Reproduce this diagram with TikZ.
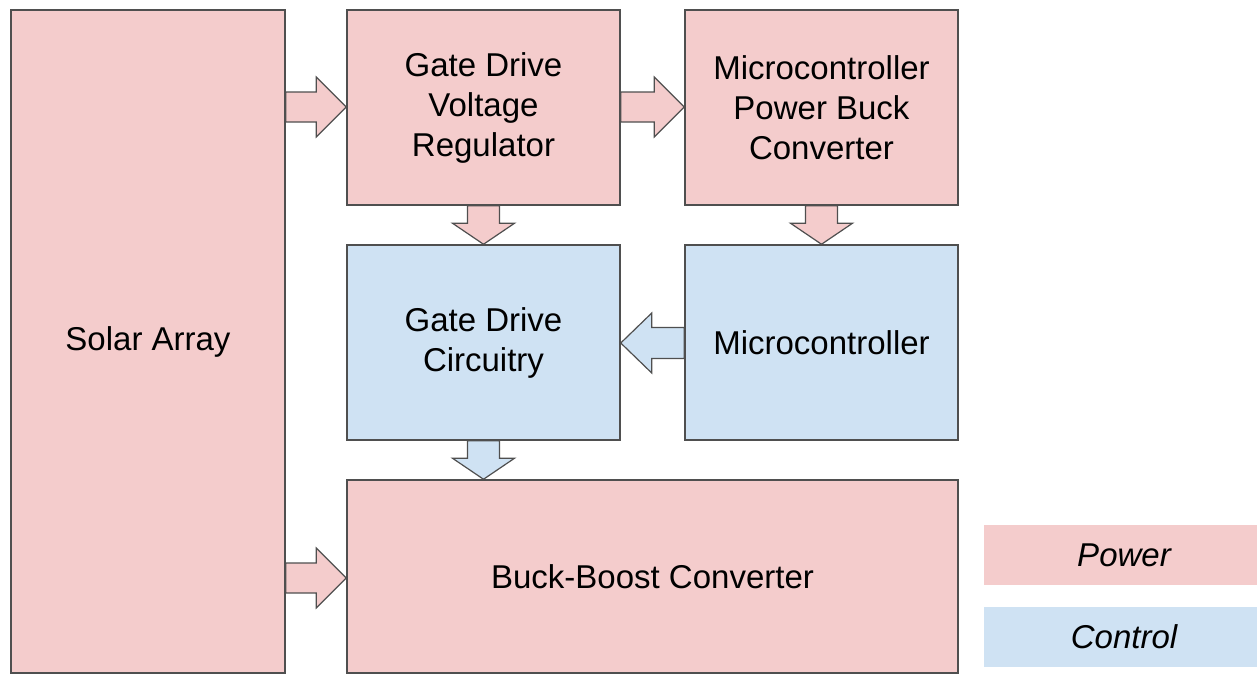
\documentclass[tikz,border=0pt]{standalone}
\usepackage{fontspec}
\setmainfont{Liberation Sans}
\usetikzlibrary{calc}
\definecolor{powerfill}{HTML}{F4CCCC}
\definecolor{controlfill}{HTML}{CFE2F3}
\definecolor{edge}{HTML}{4F4F4F}
\tikzset{
  block/.style={draw=edge, line width=1.5pt, inner sep=0pt, align=center,
    font=\fontsize{33}{40}\selectfont},
  power/.style={block, fill=powerfill},
  control/.style={block, fill=controlfill},
  legendbox/.style={inner sep=0pt, minimum width=280pt, minimum height=60pt,
    font=\fontsize{33}{40}\selectfont\itshape},
  flow/.style={draw=edge, line width=1.2pt, line join=miter},
}
% Outlined block arrow from #1 to #2: head length #3, body half-width #4, head half-width #5
\newcommand\blockarrow[6]{%
  \coordinate (ba-s) at (#1);
  \coordinate (ba-t) at (#2);
  \coordinate (ba-h) at ($(ba-t)!#3!(ba-s)$);
  \filldraw[flow, fill=#6]
    ($(ba-s)!#4!90:(ba-t)$) -- ($(ba-h)!#4!90:(ba-t)$) -- ($(ba-h)!#5!90:(ba-t)$)
    -- (ba-t) -- ($(ba-h)!#5!-90:(ba-t)$) -- ($(ba-h)!#4!-90:(ba-t)$)
    -- ($(ba-s)!#4!-90:(ba-t)$) -- cycle;
}
\begin{document}
\begin{tikzpicture}[x=1pt, y=-1pt]
\useasboundingbox (0,0) rectangle (1257,675);

% blocks
\node[power, minimum width=274pt, minimum height=663pt] (solar) at (148,341.5) {Solar Array};
\node[power, minimum width=273pt, minimum height=195pt] (gdvr) at (483.5,107.5) {Gate Drive\\Voltage\\Regulator};
\node[power, minimum width=273pt, minimum height=195pt] (mpbc) at (821.5,107.5) {Microcontroller\\Power Buck\\Converter};
\node[control, minimum width=273pt, minimum height=195pt] (gdc) at (483.5,342.5) {Gate Drive\\Circuitry};
\node[control, minimum width=273pt, minimum height=195pt] (mcu) at (821.5,342.5) {Microcontroller};
\node[power, minimum width=611pt, minimum height=193pt] (bbc) at (652.5,576.5) {Buck-Boost Converter};

% legend
\node[legendbox, fill=powerfill] (lpower) at (1124,555) {Power};
\node[legendbox, fill=controlfill] (lcontrol) at (1124,637) {Control};

% power and control flow
\blockarrow{solar.east |- 0,107}{gdvr.west |- 0,107}{30pt}{15pt}{30pt}{powerfill}
\blockarrow{gdvr.east |- 0,107}{mpbc.west |- 0,107}{30pt}{15pt}{30pt}{powerfill}
\blockarrow{gdvr.south}{gdc.north}{21pt}{16pt}{31pt}{powerfill}
\blockarrow{mpbc.south}{mcu.north}{21pt}{16pt}{31pt}{powerfill}
\blockarrow{mcu.west |- 0,343}{gdc.east |- 0,343}{31pt}{15.5pt}{30pt}{controlfill}
\blockarrow{gdc.south}{bbc.north -| gdc.south}{21pt}{16pt}{31pt}{controlfill}
\blockarrow{solar.east |- 0,578}{bbc.west |- 0,578}{30pt}{15pt}{30pt}{powerfill}
\end{tikzpicture}
\end{document}
